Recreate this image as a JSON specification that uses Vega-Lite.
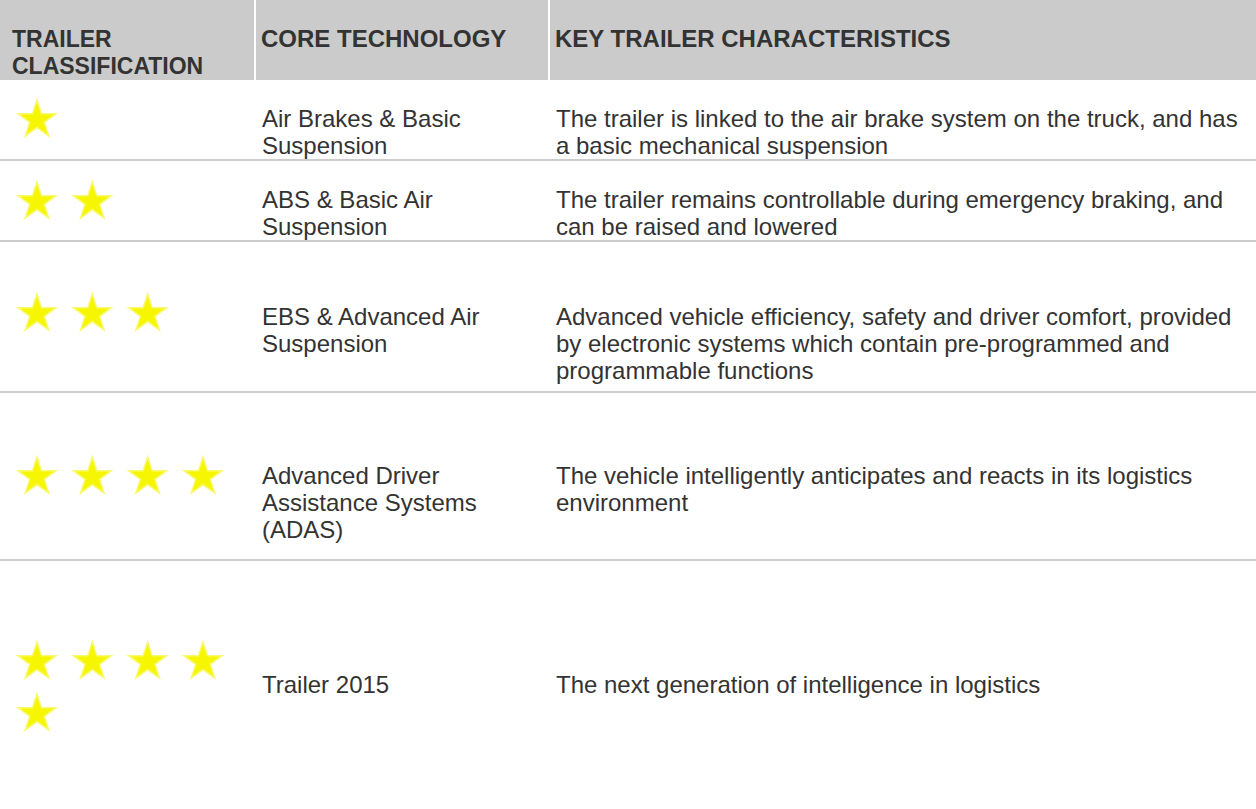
{
  "$schema": "https://vega.github.io/schema/vega-lite/v6.json",
  "width": 1256,
  "height": 809,
  "padding": 0,
  "autosize": {"type": "none"},
  "background": "#ffffff",
  "config": {"view": {"stroke": null}},
  "datasets": {
    "grid": [{"from": 0, "to": 3, "top": 0, "bottom": 1}],
    "colEdges": [{"edge": 1}, {"edge": 2}],
    "rowEdges": [{"edge": 2}, {"edge": 3}, {"edge": 4}, {"edge": 5}],
    "cells": [
      {"row": 0, "col": 0, "kind": "head", "text": "TRAILER\nCLASSIFICATION"},
      {"row": 0, "col": 1, "kind": "head", "text": "CORE TECHNOLOGY"},
      {"row": 0, "col": 2, "kind": "head", "text": "KEY TRAILER CHARACTERISTICS"},
      {"row": 1, "col": 1, "kind": "body", "text": "Air Brakes & Basic\nSuspension"},
      {"row": 1, "col": 2, "kind": "body", "text": "The trailer is linked to the air brake system on the truck, and has\na basic mechanical suspension"},
      {"row": 2, "col": 1, "kind": "body", "text": "ABS & Basic Air\nSuspension"},
      {"row": 2, "col": 2, "kind": "body", "text": "The trailer remains controllable during emergency braking, and\ncan be raised and lowered"},
      {"row": 3, "col": 1, "kind": "body", "text": "EBS & Advanced Air\nSuspension"},
      {"row": 3, "col": 2, "kind": "body", "text": "Advanced vehicle efficiency, safety and driver comfort, provided\nby electronic systems which contain pre-programmed and\nprogrammable functions"},
      {"row": 4, "col": 1, "kind": "body", "text": "Advanced Driver\nAssistance Systems\n(ADAS)"},
      {"row": 4, "col": 2, "kind": "body", "text": "The vehicle intelligently anticipates and reacts in its logistics\nenvironment"},
      {"row": 5, "col": 1, "kind": "body", "text": "Trailer 2015"},
      {"row": 5, "col": 2, "kind": "body", "text": "The next generation of intelligence in logistics"}
    ],
    "stars": [
      {"classification": 1, "line": 1, "pos": 1},
      {"classification": 2, "line": 2, "pos": 1},
      {"classification": 2, "line": 2, "pos": 2},
      {"classification": 3, "line": 3, "pos": 1},
      {"classification": 3, "line": 3, "pos": 2},
      {"classification": 3, "line": 3, "pos": 3},
      {"classification": 4, "line": 4, "pos": 1},
      {"classification": 4, "line": 4, "pos": 2},
      {"classification": 4, "line": 4, "pos": 3},
      {"classification": 4, "line": 4, "pos": 4},
      {"classification": 5, "line": 5, "pos": 1},
      {"classification": 5, "line": 5, "pos": 2},
      {"classification": 5, "line": 5, "pos": 3},
      {"classification": 5, "line": 5, "pos": 4},
      {"classification": 5, "line": 6, "pos": 1}
    ]
  },
  "layer": [
    {
      "data": {"name": "grid"},
      "mark": {"type": "rect", "color": "#cbcbcb"},
      "encoding": {
        "x": {"field": "from", "type": "quantitative", "axis": null, "scale": {"domain": [0, 1, 2, 3], "range": [0, 255, 549, 1256], "nice": false, "zero": false}},
        "x2": {"field": "to"},
        "y": {"field": "top", "type": "quantitative", "axis": null, "scale": {"domain": [0, 1, 2, 3, 4, 5, 6], "range": [0, 80, 160, 241, 392, 560, 809], "nice": false, "zero": false}},
        "y2": {"field": "bottom"}
      }
    },
    {
      "data": {"name": "colEdges"},
      "mark": {"type": "rule", "color": "#ffffff", "strokeWidth": 2},
      "encoding": {
        "x": {"field": "edge", "type": "quantitative", "axis": null, "scale": {"domain": [0, 1, 2, 3], "range": [0, 255, 549, 1256], "nice": false, "zero": false}}
      }
    },
    {
      "data": {"name": "rowEdges"},
      "mark": {"type": "rule", "color": "#cccccc", "strokeWidth": 2},
      "encoding": {
        "y": {"field": "edge", "type": "quantitative", "axis": null, "scale": {"domain": [0, 1, 2, 3, 4, 5, 6], "range": [0, 80, 160, 241, 392, 560, 809], "nice": false, "zero": false}}
      }
    },
    {
      "data": {"name": "stars"},
      "mark": {"type": "point", "filled": true, "fill": "#f6f600", "stroke": "#f9f970", "strokeWidth": 1.5, "opacity": 1, "size": 1600,
        "shape": "M0,-0.905L0.2245,-0.2135L0.951,-0.2135L0.3633,0.2135L0.5878,0.905L0,0.4775L-0.5878,0.905L-0.3633,0.2135L-0.951,-0.2135L-0.2245,-0.2135Z"},
      "encoding": {
        "x": {"field": "pos", "type": "quantitative", "axis": null, "scale": {"domain": [1, 4], "range": [37, 203], "nice": false, "zero": false}},
        "y": {"field": "line", "type": "quantitative", "axis": null, "scale": {"domain": [1, 2, 3, 4, 5, 6], "range": [118, 200, 312, 475, 660, 712], "nice": false, "zero": false}}
      }
    },
    {
      "data": {"name": "cells"},
      "transform": [{"filter": "datum.kind === 'head' && datum.col === 0"}],
      "mark": {"type": "text", "font": "Liberation Sans", "fontSize": 23, "fontWeight": "bold", "color": "#333333", "align": "left", "baseline": "middle", "lineBreak": "\n", "lineHeight": 27, "dx": 12},
      "encoding": {
        "x": {"field": "col", "type": "quantitative", "axis": null, "scale": {"domain": [0, 1, 2, 3], "range": [0, 255, 549, 1256], "nice": false, "zero": false}},
        "y": {"field": "row", "type": "quantitative", "axis": null, "scale": {"domain": [0, 1, 2, 3, 4, 5], "range": [40, 120, 201, 318, 477, 686], "nice": false, "zero": false}},
        "text": {"field": "text"}
      }
    },
    {
      "data": {"name": "cells"},
      "transform": [{"filter": "datum.kind === 'head' && datum.col > 0"}],
      "mark": {"type": "text", "font": "Liberation Sans", "fontSize": 24, "fontWeight": "bold", "color": "#333333", "align": "left", "baseline": "middle", "lineBreak": "\n", "lineHeight": 26, "dx": 6},
      "encoding": {
        "x": {"field": "col", "type": "quantitative", "axis": null, "scale": {"domain": [0, 1, 2, 3], "range": [0, 255, 549, 1256], "nice": false, "zero": false}},
        "y": {"field": "row", "type": "quantitative", "axis": null, "scale": {"domain": [0, 1, 2, 3, 4, 5], "range": [40, 120, 201, 318, 477, 686], "nice": false, "zero": false}},
        "text": {"field": "text"}
      }
    },
    {
      "data": {"name": "cells"},
      "transform": [{"filter": "datum.kind === 'body'"}],
      "mark": {"type": "text", "font": "Liberation Sans", "fontSize": 24, "color": "#333333", "align": "left", "baseline": "middle", "lineBreak": "\n", "lineHeight": 27, "dx": 7},
      "encoding": {
        "x": {"field": "col", "type": "quantitative", "axis": null, "scale": {"domain": [0, 1, 2, 3], "range": [0, 255, 549, 1256], "nice": false, "zero": false}},
        "y": {"field": "row", "type": "quantitative", "axis": null, "scale": {"domain": [0, 1, 2, 3, 4, 5], "range": [40, 120, 201, 318, 477, 686], "nice": false, "zero": false}},
        "text": {"field": "text"}
      }
    }
  ],
  "resolve": {"scale": {"x": "independent", "y": "independent"}}
}
